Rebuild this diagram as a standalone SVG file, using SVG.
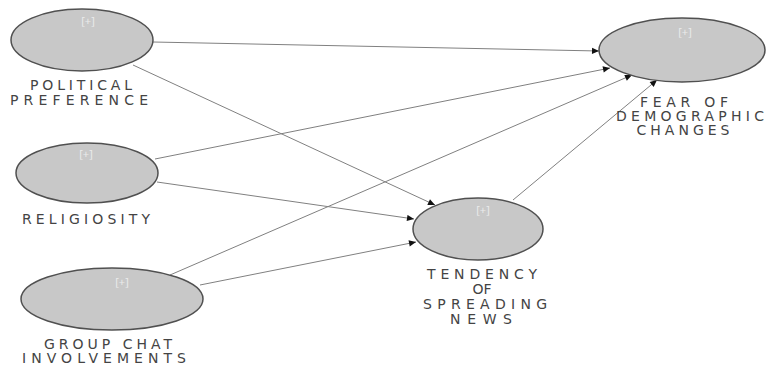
<svg xmlns="http://www.w3.org/2000/svg" width="766" height="367" viewBox="0 0 766 367">
<style>
.node ellipse{fill:#c8c8c8;stroke:#505050;stroke-width:1.5}
.plus{font-family:"Open Sans","DejaVu Sans",sans-serif;font-size:11px;fill:#ececec;text-anchor:middle}
.lbl{font-family:"DejaVu Sans","Open Sans",sans-serif;font-size:14px;fill:#444444;text-anchor:middle}
.edges line{stroke:#808080;stroke-width:1;marker-end:url(#ah)}
</style>
<defs>
<marker id="ah" viewBox="0 0 10 10" refX="10" refY="5" markerWidth="8" markerHeight="7" markerUnits="userSpaceOnUse" orient="auto">
<path d="M0,0.5 L10,5 L0,9.5 Z" fill="#111"/>
</marker>
</defs>
<rect width="766" height="367" fill="#fff"/>
<g class="edges">
<line x1="153" y1="42" x2="599" y2="51"/>
<line x1="133" y1="65" x2="435" y2="205"/>
<line x1="155" y1="159" x2="610" y2="68"/>
<line x1="157" y1="182" x2="414" y2="219"/>
<line x1="170" y1="275" x2="632" y2="75"/>
<line x1="200" y1="285" x2="416" y2="242"/>
<line x1="513" y1="200" x2="657" y2="80"/>
</g>
<g id="political" class="node">
<ellipse cx="82" cy="40" rx="71" ry="31"/>
<text class="plus" x="88" y="25">[+]</text>
<text class="lbl" x="81" y="90" textLength="102" lengthAdjust="spacing">POLITICAL</text>
<text class="lbl" x="79" y="105" textLength="138" lengthAdjust="spacing">PREFERENCE</text>
</g>
<g id="religiosity" class="node">
<ellipse cx="87" cy="173" rx="71" ry="30"/>
<text class="plus" x="86" y="158">[+]</text>
<text class="lbl" x="86" y="224" textLength="128" lengthAdjust="spacing">RELIGIOSITY</text>
</g>
<g id="groupchat" class="node">
<ellipse cx="112" cy="299" rx="91" ry="31"/>
<text class="plus" x="122" y="286">[+]</text>
<text class="lbl" x="108" y="349" textLength="128" lengthAdjust="spacing">GROUP CHAT</text>
<text class="lbl" x="104" y="363" textLength="164" lengthAdjust="spacing">INVOLVEMENTS</text>
</g>
<g id="fear" class="node">
<ellipse cx="682" cy="50" rx="83" ry="32"/>
<text class="plus" x="685" y="36">[+]</text>
<text class="lbl" x="684" y="107" textLength="88" lengthAdjust="spacing">FEAR OF</text>
<text class="lbl" x="690" y="121" textLength="148" lengthAdjust="spacing">DEMOGRAPHIC</text>
<text class="lbl" x="683" y="135" textLength="93" lengthAdjust="spacing">CHANGES</text>
</g>
<g id="tendency" class="node">
<ellipse cx="478" cy="229" rx="65" ry="31"/>
<text class="plus" x="483" y="214">[+]</text>
<text class="lbl" x="482" y="279" textLength="110" lengthAdjust="spacing">TENDENCY</text>
<text class="lbl" x="482" y="294">OF</text>
<text class="lbl" x="485" y="309" textLength="124" lengthAdjust="spacing">SPREADING</text>
<text class="lbl" x="481" y="324" textLength="62" lengthAdjust="spacing">NEWS</text>
</g>
</svg>
